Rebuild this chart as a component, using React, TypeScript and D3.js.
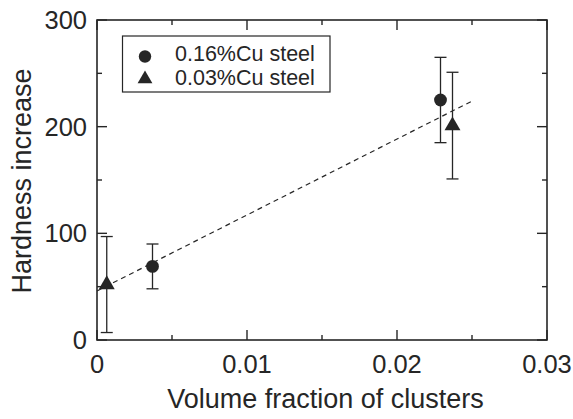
import React from "react";
import * as d3 from "d3";

// Cluster volume fraction vs. hardness increase
const highCuX = [0.0037, 0.0229];
const highCuY = [69, 225];
const highCuErr = [21, 40];

const lowCuX = [0.00065, 0.0237];
const lowCuY = [52, 201];
const lowCuErr = [45, 50];

const fitX = [0, 0.025];
const fitY = [46, 224];

const xMajor = [0, 0.01, 0.02, 0.03];
const xMinor = [0.005, 0.015, 0.025];
const yMajor = [0, 100, 200, 300];
const yMinor = [50, 150, 250];

const legendLabels = ["0.16%Cu steel", "0.03%Cu steel"];

const W = 573;
const H = 419;
const L = 97, R = 547, T = 20, B = 340;
const ink = "#262626";
const font = "'Liberation Sans', Arial, sans-serif";

export default function App() {
  const x = d3.scaleLinear().domain([0, 0.03]).range([L, R]);
  const y = d3.scaleLinear().domain([0, 300]).range([B, T]);
  const tri = d3.symbol().type(d3.symbolTriangle).size(110)();
  const triLeg = d3.symbol().type(d3.symbolTriangle).size(95)();
  const line = d3.line<number>().x((_, i) => x(fitX[i])).y((d) => y(d));
  const fmtX = (v: number) => (v === 0 ? "0" : d3.format(".2f")(v));

  const errBar = (cx: number, cy: number, e: number, key: string) => (
    <g key={key} stroke={ink} strokeWidth={1.3}>
      <line x1={x(cx)} x2={x(cx)} y1={y(cy + e)} y2={y(cy - e)} />
      <line x1={x(cx) - 6} x2={x(cx) + 6} y1={y(cy + e)} y2={y(cy + e)} />
      <line x1={x(cx) - 6} x2={x(cx) + 6} y1={y(cy - e)} y2={y(cy - e)} />
    </g>
  );

  return (
    <svg width={W} height={H} style={{ position: "absolute", left: 0, top: 0, background: "#fff" }}>
      <rect width={W} height={H} fill="#fff" />
      <path d={line(fitY) || ""} fill="none" stroke={ink} strokeWidth={1.2} strokeDasharray="5,4" />
      {highCuX.map((v, i) => errBar(v, highCuY[i], highCuErr[i], "he" + i))}
      {lowCuX.map((v, i) => errBar(v, lowCuY[i], lowCuErr[i], "le" + i))}
      {highCuX.map((v, i) => (
        <circle key={"hc" + i} cx={x(v)} cy={y(highCuY[i])} r={6.4} fill={ink} />
      ))}
      {lowCuX.map((v, i) => (
        <path key={"lt" + i} d={tri} transform={`translate(${x(v)},${y(lowCuY[i])})`} fill={ink} />
      ))}
      {/* frame */}
      <rect x={L} y={T} width={R - L} height={B - T} fill="none" stroke={ink} strokeWidth={1.6} />
      {/* ticks, inward on all sides */}
      <g stroke={ink} strokeWidth={1.4}>
        {xMajor.map((v) => (
          <g key={"xm" + v}>
            <line x1={x(v)} x2={x(v)} y1={B} y2={B - 10} />
            <line x1={x(v)} x2={x(v)} y1={T} y2={T + 10} />
          </g>
        ))}
        {xMinor.map((v) => (
          <g key={"xn" + v}>
            <line x1={x(v)} x2={x(v)} y1={B} y2={B - 5} />
            <line x1={x(v)} x2={x(v)} y1={T} y2={T + 5} />
          </g>
        ))}
        {yMajor.map((v) => (
          <g key={"ym" + v}>
            <line x1={L} x2={L + 10} y1={y(v)} y2={y(v)} />
            <line x1={R} x2={R - 10} y1={y(v)} y2={y(v)} />
          </g>
        ))}
        {yMinor.map((v) => (
          <g key={"yn" + v}>
            <line x1={L} x2={L + 5} y1={y(v)} y2={y(v)} />
            <line x1={R} x2={R - 5} y1={y(v)} y2={y(v)} />
          </g>
        ))}
      </g>
      <g fontFamily={font} fill={ink}>
        <g fontSize={25.5}>
          {xMajor.map((v) => (
            <text key={"xl" + v} x={x(v)} y={373} textAnchor="middle">{fmtX(v)}</text>
          ))}
          {yMajor.map((v) => (
            <text key={"yl" + v} x={87} y={y(v) + 9} textAnchor="end">{v}</text>
          ))}
        </g>
        <g fontSize={27}>
          <text x={325.5} y={408} textAnchor="middle">Volume fraction of clusters</text>
          <text transform={`translate(30.5,181) rotate(-90)`} textAnchor="middle">Hardness increase</text>
        </g>
      </g>
      {/* legend */}
      <rect x={122.5} y={36} width={207.5} height={56} fill="#fff" stroke={ink} strokeWidth={1.2} />
      <circle cx={145} cy={56.5} r={6.2} fill={ink} />
      <path d={triLeg} transform="translate(145,79)" fill={ink} />
      <g fontFamily={font} fontSize={21.5} fill={ink}>
        <text x={175} y={61}>{legendLabels[0]}</text>
        <text x={175} y={85}>{legendLabels[1]}</text>
      </g>
    </svg>
  );
}
